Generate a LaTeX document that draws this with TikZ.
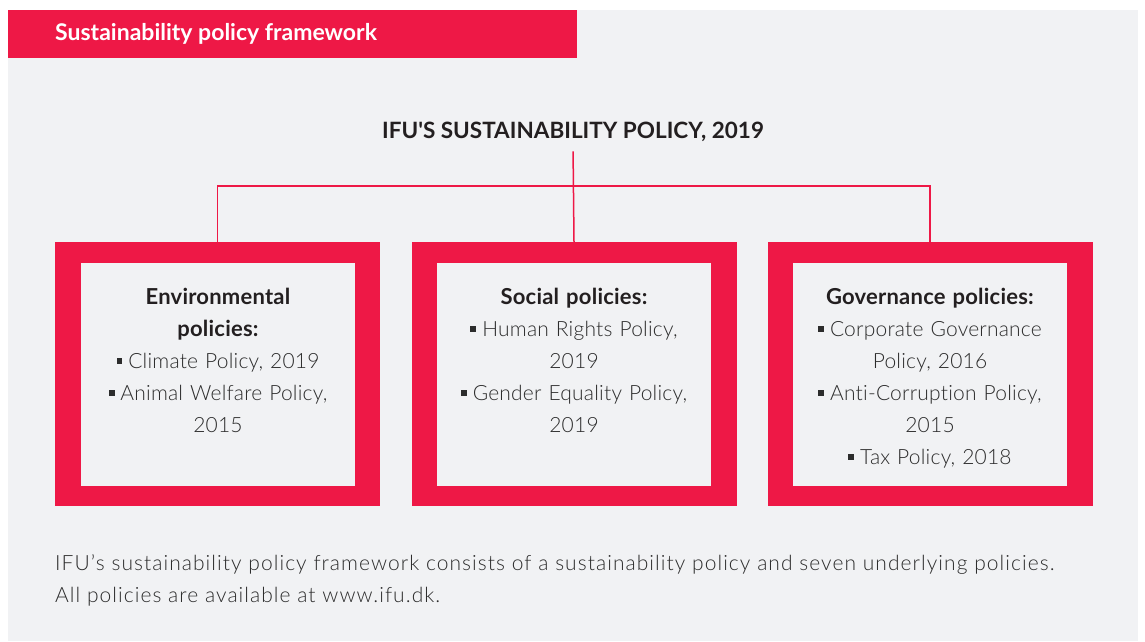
\documentclass[tikz,border=0pt]{standalone}
\usepackage{fontspec}
\setmainfont{Lato}[UprightFont=* Light, BoldFont=* Bold, Ligatures={TeX,NoCommon}]
\usetikzlibrary{positioning, calc}
\definecolor{ifured}{HTML}{EE1846}
\definecolor{panelgrey}{HTML}{F1F2F4}
\definecolor{textdark}{HTML}{231F20}
\definecolor{textgrey}{HTML}{2C2C2C}
\newcommand{\pbullet}{\rule[0.2em]{0.28em}{0.28em}\hspace{0.28em}}
\newcommand{\boxhead}[1]{{\fontsize{22}{32}\selectfont\bfseries\color{textdark}#1}}

\tikzset{
  policybox/.style={fill=ifured, minimum width=325pt, minimum height=264pt, inner sep=0pt, outer sep=0pt},
  policyinner/.style={fill=panelgrey, minimum width=274pt, minimum height=223pt, inner sep=0pt},
  policytext/.style={anchor=north, align=center, text=textgrey, text width=274pt, inner sep=0pt, font=\fontsize{21}{32}\selectfont\addfontfeatures{LetterSpace=1}},
  linkline/.style={ifured, line width=1.5pt},
}

\begin{document}
\begin{tikzpicture}[x=1pt, y=-1pt]
  \useasboundingbox (0,0) rectangle (1145,641);

  % Grey panel and header bar
  \fill[panelgrey] (8,10) rectangle (1138,641);
  \fill[ifured] (8,10) rectangle (577,58);
  \node[anchor=west, inner sep=0pt, text=white, font=\bfseries\fontsize{23}{23}\selectfont] (header) at (55,34) {Sustainability policy framework};

  % Main policy
  \node[text=textdark, font=\bfseries\fontsize{22.5}{22.5}\selectfont] (policy) at (573,132) {IFU\textquotesingle S SUSTAINABILITY POLICY, 2019};

  % Three policy boxes
  \node[policybox] (env) at (217.5,374) {};
  \node[policyinner] (envin) at (218,374.5) {};
  \node[policytext] (envtext) at (218,288) {\boxhead{Environmental}\\
    \boxhead{policies:}\\
    \pbullet Climate Policy, 2019\\
    \pbullet Animal Welfare Policy,\\
    2015};

  \node[policybox] (social) at (574,374) {};
  \node[policyinner] (socialin) at (574,374.5) {};
  \node[policytext] (socialtext) at (574,288) {\boxhead{Social policies:}\\
    \pbullet Human Rights Policy,\\
    2019\\
    \pbullet Gender Equality Policy,\\
    2019};

  \node[policybox] (gov) at (930,374) {};
  \node[policyinner] (govin) at (930,374.5) {};
  \node[policytext] (govtext) at (930,288) {\boxhead{Governance policies:}\\
    \pbullet Corporate Governance\\
    Policy, 2016\\
    \pbullet Anti-Corruption Policy,\\
    2015\\
    \pbullet Tax Policy, 2018};

  % Connectors
  \coordinate (split) at (574,186);
  \draw[linkline, shorten <=6pt] (policy.south) -- (social.north);
  \draw[linkline] (env.north) |- (split) -| (gov.north);

  % Caption
  \node[anchor=north west, align=left, inner sep=0pt, text=textgrey, font=\fontsize{21}{32}\selectfont\addfontfeatures{LetterSpace=5}] (caption) at (55,554) {IFU’s sustainability policy framework consists of a sustainability policy and seven underlying policies.\\
    All policies are available at www.ifu.dk.};
\end{tikzpicture}
\end{document}
